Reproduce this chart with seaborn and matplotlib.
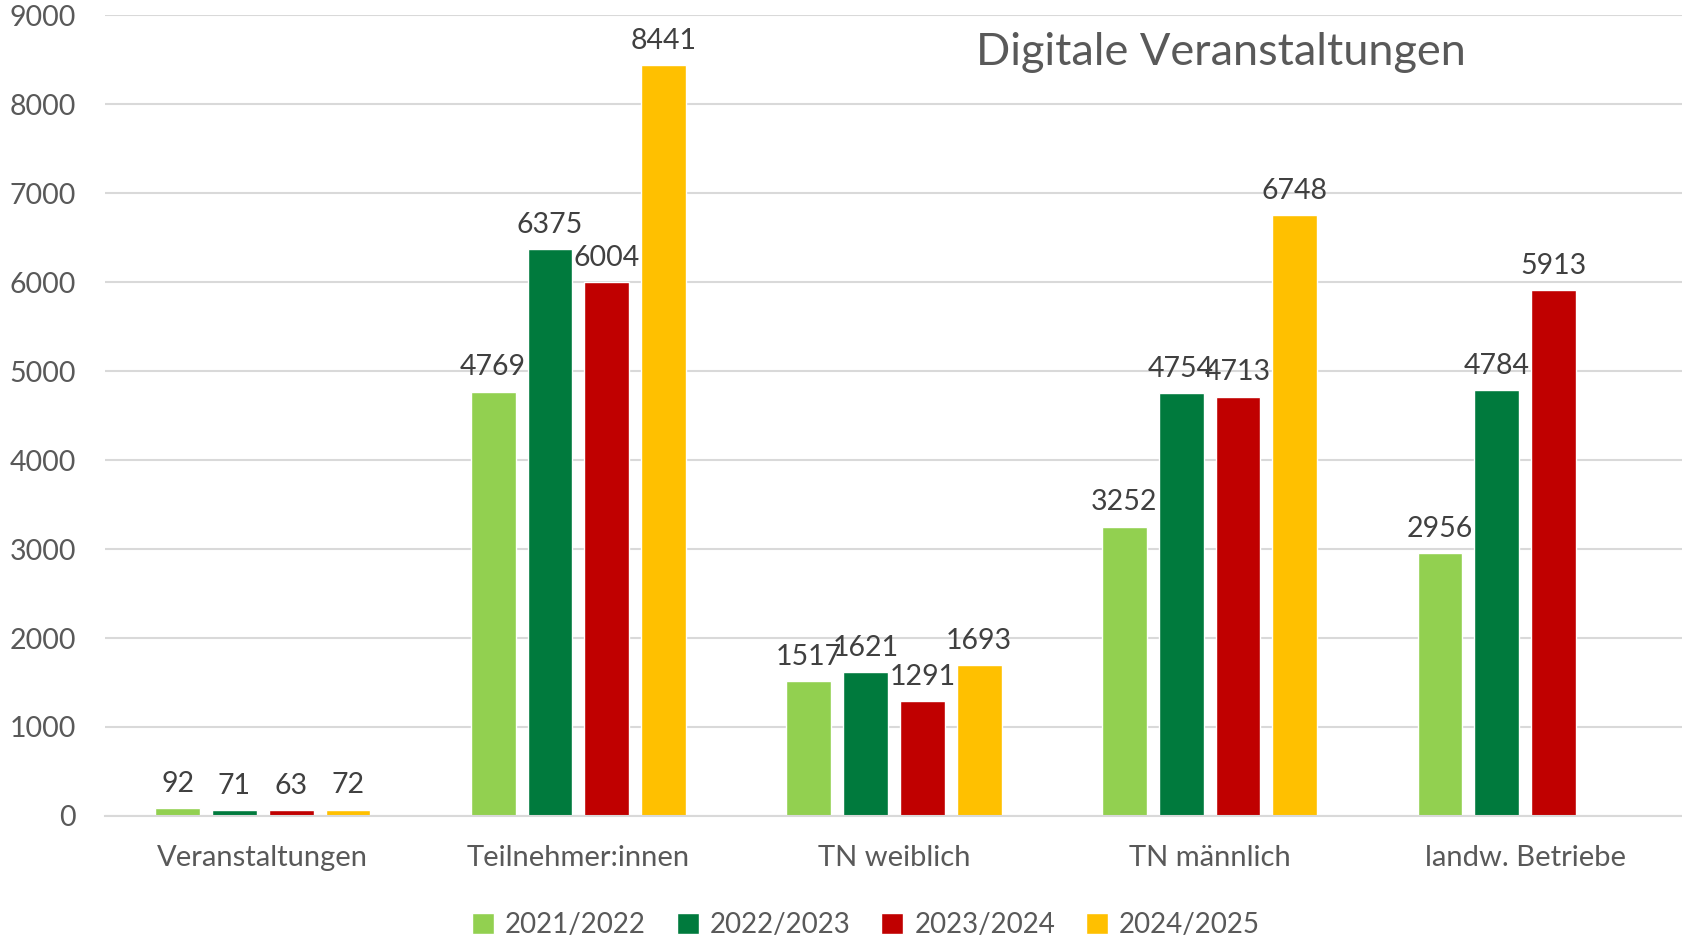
import numpy as np
import pandas as pd
import matplotlib
matplotlib.use("Agg")
import matplotlib.pyplot as plt
import seaborn as sns

categories = ["Veranstaltungen", "Teilnehmer:innen", "TN weiblich", "TN männlich", "landw. Betriebe"]
years = ["2021/2022", "2022/2023", "2023/2024", "2024/2025"]
v_2021 = [92, 4769, 1517, 3252, 2956]
v_2022 = [71, 6375, 1621, 4754, 4784]
v_2023 = [63, 6004, 1291, 4713, 5913]
v_2024 = [72, 8441, 1693, 6748, np.nan]

colors = ["#92D050", "#007A3D", "#C00000", "#FFC000"]

sns.set_theme(style="white")
plt.rcParams["font.family"] = ["Lato", "DejaVu Sans"]

rows = []
for year, vals in zip(years, [v_2021, v_2022, v_2023, v_2024]):
    for cat, v in zip(categories, vals):
        if not np.isnan(v):
            rows.append({"Kategorie": cat, "Jahr": year, "Wert": v})
df = pd.DataFrame(rows)

fig = plt.figure(figsize=(16.83, 9.43), dpi=100)
ax = fig.add_axes([0.0624, 0.1347, 0.9376, 0.8493])

sns.barplot(data=df, x="Kategorie", y="Wert", hue="Jahr", order=categories,
            hue_order=years, palette=colors, width=0.72, gap=0.21,
            saturation=1, errorbar=None, legend=True, ax=ax)

for cont in ax.containers:
    ax.bar_label(cont, fmt="%d", padding=8, fontsize=20.5, color="#404040")

ax.set_ylim(0, 9000)
ax.set_yticks(range(0, 9001, 1000))
ax.yaxis.grid(True, color="#D9D9D9", linewidth=1.5)
ax.set_axisbelow(True)
for s in ["left", "right", "top"]:
    ax.spines[s].set_visible(False)
ax.spines["bottom"].set_color("#D9D9D9")
ax.spines["bottom"].set_linewidth(1.5)
ax.tick_params(axis="y", length=0, pad=21, labelsize=20.5, labelcolor="#595959")
ax.tick_params(axis="x", length=0, pad=21, labelsize=21, labelcolor="#595959")
ax.set_xlabel("")
ax.set_ylabel("")

ax.text(1221 / 1683 / 0.9376 - 0.0624 / 0.9376, (943 - 44) / 943, "Digitale Veranstaltungen",
        transform=ax.transAxes, ha="center", va="center", fontsize=32.5, color="#595959")

handles, labels = ax.get_legend_handles_labels()
ax.get_legend().remove()
fig.legend(handles, labels, loc="center", bbox_to_anchor=(866 / 1683, 1 - 925 / 943),
           ncol=4, frameon=False, fontsize=20, labelcolor="#595959",
           handlelength=0.8, handleheight=0.8, handletextpad=0.4, columnspacing=1.1)

plt.savefig("out.png", dpi=100)
plt.close()
